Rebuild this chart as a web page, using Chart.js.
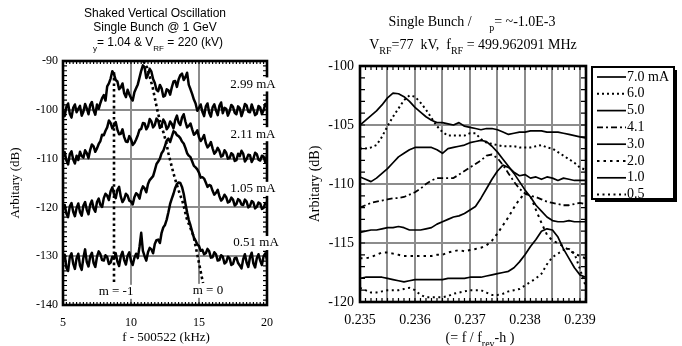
<!DOCTYPE html>
<html>
<head>
<meta charset="utf-8">
<script src="https://cdn.jsdelivr.net/npm/chart.js@4.4.0/dist/chart.umd.min.js"></script>
<style>
  html, body { margin: 0; padding: 0; background: #fff; }
  #wrap { position: relative; width: 682px; height: 346px; overflow: hidden; }
  #left { position: absolute; left: 0; top: 0; }
  #right { position: absolute; left: 300px; top: 0; }
</style>
</head>
<body>
<div id="wrap">
  <canvas id="left" width="300" height="346"></canvas>
  <canvas id="right" width="382" height="346"></canvas>
</div>
<script>
// ---- left panel: shaked vertical oscillation spectra ----
const leftX = [5,5.125,5.25,5.375,5.5,5.625,5.75,5.875,6,6.125,6.25,6.375,6.5,6.625,6.75,6.875,
  7,7.125,7.25,7.375,7.5,7.625,7.75,7.875,8,8.125,8.25,8.375,8.5,8.625,8.75,8.875,
  9,9.125,9.25,9.375,9.5,9.625,9.75,9.875,10,10.125,10.25,10.375,10.5,10.625,10.75,10.875,
  11,11.125,11.25,11.375,11.5,11.625,11.75,11.875,12,12.125,12.25,12.375,12.5,12.625,12.75,12.875,
  13,13.125,13.25,13.375,13.5,13.625,13.75,13.875,14,14.125,14.25,14.375,14.5,14.625,14.75,14.875,
  15,15.125,15.25,15.375,15.5,15.625,15.75,15.875,16,16.125,16.25,16.375,16.5,16.625,16.75,16.875,
  17,17.125,17.25,17.375,17.5,17.625,17.75,17.875,18,18.125,18.25,18.375,18.5,18.625,18.75,18.875,
  19,19.125,19.25,19.375,19.5,19.625,19.75,19.875,20];
const trace299 = [-100.2,-101.3,-99.4,-98.7,-100.8,-101.6,-99.6,-98.9,-100.5,-99.8,
  -99.2,-101.2,-100.4,-98.8,-99.7,-100.9,-99.0,-98.4,-100.1,-101.0,
  -98.9,-99.8,-98.6,-97.6,-97.0,-98.1,-95.2,-94.6,-93.6,-92.1,
  -92.7,-93.9,-94.2,-95.8,-95.4,-94.6,-96.6,-97.4,-95.9,-96.8,
  -97.6,-98.1,-96.4,-95.6,-94.8,-93.4,-92.0,-90.9,-91.3,-93.5,
  -92.8,-91.6,-92.2,-93.7,-94.5,-95.9,-96.2,-94.9,-95.6,-97.3,
  -97.1,-95.8,-96.0,-96.9,-95.4,-94.2,-94.1,-95.3,-93.8,-92.9,
  -92.6,-93.9,-93.3,-92.4,-94.9,-95.8,-96.8,-97.9,-98.7,-100.2,
  -99.6,-98.9,-100.4,-101.3,-99.3,-98.7,-100.6,-101.4,-99.5,-98.9,
  -100.1,-101.1,-99.2,-98.5,-100.7,-99.6,-99.8,-101.2,-100.3,-99.0,
  -99.4,-100.6,-100.9,-99.3,-99.7,-101.3,-100.2,-98.8,-99.1,-100.4,
  -100.5,-98.9,-99.9,-101.1,-100.8,-99.2,-99.5,-100.9,-100.1,-98.8,-99.3];
const trace211 = [-109.6,-108.7,-110.4,-111.2,-109.1,-108.5,-110.2,-111.0,-109.4,-110.3,
  -108.6,-109.5,-109.8,-108.3,-108.9,-109.9,-108.2,-107.1,-107.5,-108.6,
  -107.9,-107.0,-106.4,-105.1,-105.2,-104.3,-103.6,-102.2,-102.7,-103.8,
  -103.2,-102.5,-104.1,-105.0,-104.9,-104.0,-105.6,-106.5,-106.6,-105.4,
  -106.0,-107.2,-106.8,-106.1,-105.2,-104.1,-103.9,-102.7,-102.8,-104.0,
  -103.4,-101.9,-102.4,-103.6,-103.1,-101.8,-102.2,-103.7,-103.3,-102.0,
  -102.6,-104.0,-103.5,-102.4,-102.9,-103.8,-102.1,-101.2,-102.6,-103.1,
  -101.6,-100.9,-102.4,-103.6,-103.3,-102.8,-104.0,-105.1,-104.8,-104.2,
  -105.6,-106.4,-105.9,-105.2,-106.8,-107.7,-107.3,-106.6,-107.9,-109.0,
  -108.6,-107.8,-108.4,-109.6,-109.4,-108.3,-108.8,-110.0,-109.9,-108.9,
  -109.2,-110.5,-110.3,-109.0,-109.5,-108.4,-109.0,-110.6,-110.1,-109.2,
  -109.3,-110.7,-110.0,-108.8,-109.1,-110.2,-110.4,-109.4,-109.6,-110.8,-109.2];
const trace105 = [-120.4,-119.5,-121.3,-122.0,-119.8,-119.1,-120.9,-121.8,-120.1,-119.2,
  -121.0,-121.7,-119.6,-118.9,-120.5,-121.4,-119.4,-118.6,-120.2,-120.9,
  -118.9,-118.2,-119.5,-119.9,-118.1,-117.2,-117.6,-118.5,-116.7,-115.9,
  -117.3,-118.1,-116.4,-115.8,-117.8,-118.9,-118.3,-117.2,-117.6,-118.6,
  -118.8,-119.4,-117.9,-117.1,-117.4,-118.2,-116.6,-115.7,-116.1,-116.9,
  -115.2,-114.4,-114.0,-113.6,-112.4,-111.1,-110.6,-110.0,-108.9,-108.4,
  -107.4,-106.3,-105.9,-106.6,-105.5,-104.4,-104.6,-105.2,-105.4,-105.8,
  -106.5,-106.9,-107.8,-108.9,-109.4,-109.7,-110.6,-111.5,-111.8,-112.2,
  -112.9,-113.9,-113.8,-114.1,-114.9,-115.8,-115.4,-115.6,-116.6,-117.4,
  -117.0,-116.4,-117.7,-118.6,-118.2,-117.4,-117.9,-119.0,-118.8,-118.0,
  -118.4,-119.6,-119.3,-118.3,-118.6,-119.4,-119.5,-118.4,-118.8,-120.0,
  -119.7,-118.7,-119.0,-120.2,-119.9,-119.0,-119.2,-120.3,-120.1,-119.1,-119.4];
const trace051 = [-130.6,-129.7,-132.4,-133.0,-130.2,-129.4,-131.5,-132.6,-130.4,-129.5,
  -131.9,-132.8,-130.3,-128.6,-131.2,-132.1,-130.0,-129.3,-131.4,-132.2,
  -130.1,-129.0,-129.6,-130.8,-130.9,-129.8,-130.2,-131.6,-131.3,-130.1,
  -130.5,-129.4,-131.1,-132.0,-130.0,-129.1,-130.8,-131.7,-129.9,-129.2,
  -131.0,-131.8,-130.3,-129.5,-130.4,-128.1,-125.2,-128.9,-130.0,-130.9,
  -129.2,-128.3,-128.6,-129.4,-127.5,-126.7,-126.6,-127.3,-125.2,-124.1,
  -123.6,-122.5,-121.0,-119.3,-118.2,-117.2,-116.0,-115.2,-114.9,-115.0,
  -115.8,-117.2,-119.2,-121.0,-122.6,-123.7,-125.0,-126.2,-126.8,-127.6,
  -127.9,-128.9,-128.7,-129.6,-129.4,-128.5,-129.0,-130.3,-130.2,-129.2,
  -129.6,-130.9,-130.8,-129.8,-130.1,-131.5,-131.2,-130.1,-130.4,-131.8,
  -131.6,-130.4,-130.3,-131.4,-131.9,-132.5,-130.6,-129.6,-131.3,-132.2,
  -130.2,-129.3,-131.5,-132.3,-130.4,-129.6,-130.9,-131.8,-130.0,-129.4,-130.7];
const mMinus1X = [8.75, 8.75];
const mMinus1Y = [-92.3, -135.5];
const mZeroX = [10.9,11.2,11.6,11.9,12.1,12.4,12.6,12.75,13.0,13.2,13.5,13.8,14.1,14.6,14.85,15.2,15.3];
const mZeroY = [-90,-91.4,-95.5,-99.6,-102.0,-104.8,-106.8,-108.9,-111.7,-113.8,-116.5,-118.9,-122.3,-125.9,-129.3,-134.2,-135.5];
const leftNotes = ['2.99 mA', '2.11 mA', '1.05 mA', '0.51 mA', 'm = -1', 'm = 0'];
const leftNoteX = [18.97, 18.97, 18.97, 19.2, 8.9, 15.66];
const leftNoteY = [-94.8, -105, -116.2, -127.3, -137.3, -137.1];

// ---- right panel: single bunch, current dependence ----
const rightX = [0.2350,0.2351,0.2352,0.2353,0.2354,0.2355,0.2356,0.2357,0.2358,0.2359,
  0.2360,0.2361,0.2362,0.2363,0.2364,0.2365,0.2366,0.2367,0.2368,0.2369,
  0.2370,0.2371,0.2372,0.2373,0.2374,0.2375,0.2376,0.2377,0.2378,0.2379,
  0.2380,0.2381,0.2382,0.2383,0.2384,0.2385,0.2386,0.2387,0.2388,0.2389,0.2390,0.2391];
const rightGrid = [0.235, 0.2355, 0.236, 0.2365, 0.237, 0.2375, 0.238, 0.2385, 0.239];
const currents = ['7.0 mA', '6.0', '5.0', '4.1', '3.0', '2.0', '1.0', '0.5'];
const r70 = [-105.0,-104.6,-104.2,-103.8,-103.3,-102.7,-102.3,-102.35,-102.6,-103.0,
  -103.5,-103.9,-104.3,-104.6,-104.8,-104.8,-104.9,-105.0,-104.8,-105.1,
  -105.2,-105.3,-105.4,-105.3,-105.3,-105.4,-105.6,-105.8,-105.7,-105.6,
  -105.6,-105.5,-105.5,-105.5,-105.6,-105.6,-105.6,-105.7,-105.8,-105.9,-106.0,-106.1];
const r60 = [-107.0,-107.0,-106.9,-106.7,-106.0,-105.1,-104.3,-103.6,-102.9,-102.5,
  -102.6,-103.1,-103.7,-104.4,-105.1,-105.6,-105.9,-105.9,-105.9,-105.9,
  -105.7,-105.7,-106.2,-106.5,-106.6,-106.7,-106.8,-106.8,-106.8,-106.9,
  -106.9,-106.9,-106.8,-106.7,-106.9,-107.0,-107.3,-107.6,-107.9,-108.2,-108.6,-108.8];
const r50 = [-109.4,-109.6,-109.8,-109.5,-109.1,-108.7,-108.2,-107.7,-107.4,-107.1,
  -106.9,-106.9,-106.9,-106.9,-107.1,-107.4,-107.0,-106.9,-106.8,-106.7,
  -106.5,-106.4,-106.3,-106.4,-106.8,-107.3,-107.9,-108.5,-109.1,-109.8,
  -110.5,-111.1,-111.8,-112.3,-112.8,-113.1,-113.2,-113.2,-113.1,-113.2,-113.2,-113.2];
const r41 = [-112.0,-111.8,-111.6,-111.5,-111.4,-111.3,-111.2,-111.2,-111.1,-110.9,
  -110.7,-110.4,-110.0,-109.7,-109.5,-109.5,-109.5,-109.5,-109.2,-108.9,
  -108.6,-108.3,-108.0,-107.6,-107.5,-107.8,-108.4,-109.1,-109.8,-110.4,
  -110.8,-111.0,-111.1,-111.3,-111.5,-111.6,-111.7,-111.8,-111.8,-111.7,-111.6,-111.7];
const r30 = [-114.1,-114.0,-113.9,-113.9,-113.8,-113.7,-113.7,-113.6,-113.7,-113.9,
  -113.9,-113.9,-113.8,-113.7,-113.4,-113.2,-113.0,-112.8,-112.7,-112.5,
  -112.2,-111.9,-111.2,-110.4,-109.6,-108.9,-108.4,-108.6,-109.0,-109.3,
  -109.2,-109.5,-109.4,-109.6,-109.4,-109.5,-109.7,-109.5,-109.6,-109.7,-109.7,-109.7];
const r20 = [-116.3,-116.3,-116.2,-116.0,-115.8,-115.8,-115.9,-116.0,-116.1,-116.1,
  -116.1,-116.1,-116.1,-116.1,-116.0,-116.0,-115.8,-115.7,-115.6,-115.7,
  -115.6,-115.5,-115.4,-115.2,-114.8,-114.2,-113.5,-112.8,-112.0,-111.3,
  -110.8,-111.0,-112.2,-113.3,-114.3,-114.8,-115.0,-115.3,-115.6,-115.9,-116.1,-116.3];
const r10 = [-118.0,-117.9,-117.9,-117.9,-117.9,-118.0,-118.1,-118.2,-118.3,-118.2,
  -118.1,-118.1,-118.1,-118.1,-118.1,-118.1,-118.0,-118.0,-118.0,-118.0,
  -117.9,-117.9,-117.9,-117.8,-117.7,-117.6,-117.5,-117.4,-117.1,-116.6,
  -116.0,-115.3,-114.7,-114.0,-113.8,-113.9,-114.5,-115.5,-116.3,-117.1,-117.7,-117.9];
const r05 = [-118.8,-119.0,-119.2,-119.2,-119.1,-119.0,-119.0,-119.0,-118.9,-118.8,
  -119.0,-119.4,-119.6,-119.6,-119.6,-119.6,-119.5,-119.3,-119.2,-119.1,
  -119.0,-119.0,-119.0,-119.2,-119.4,-119.4,-119.3,-119.1,-119.0,-118.9,
  -118.6,-118.3,-118.0,-117.6,-116.8,-116.2,-115.9,-115.6,-115.5,-115.9,-117.2,-118.6];

const SERIF = '"Liberation Serif", "Times New Roman", Times, serif';
const SANS = '"Liberation Sans", Arial, Helvetica, sans-serif';
const GRID = '#8c8c8c';

function pts(xs, ys) { return xs.map((x, i) => ({ x, y: ys[i] })); }

// text with subscripts, centred on cx
function richText(ctx, parts, cx, cy, size, family) {
  const sub = Math.round(size * 0.7);
  let w = 0;
  parts.forEach(p => { ctx.font = (p.sub ? sub : size) + 'px ' + family; w += ctx.measureText(p.t).width; });
  let x = cx - w / 2;
  ctx.textAlign = 'left';
  ctx.textBaseline = 'middle';
  parts.forEach(p => {
    ctx.font = (p.sub ? sub : size) + 'px ' + family;
    ctx.fillText(p.t, x, cy + (p.sub ? size * 0.45 : 0));
    x += ctx.measureText(p.t).width;
  });
}

// box border + small inward ticks on all four sides
function framePlugin(o) {
  return {
    id: 'frame',
    afterDatasetsDraw(chart) {
      const { ctx, chartArea: a, scales: { x, y } } = chart;
      ctx.save();
      ctx.strokeStyle = '#000';
      ctx.lineWidth = 1.2;
      ctx.beginPath();
      for (let i = 0; ; i++) {
        const v = x.min + i * o.xMinor;
        if (v > x.max + 1e-9) break;
        const px = x.getPixelForValue(v);
        ctx.moveTo(px, a.top); ctx.lineTo(px, a.top + o.tickLen);
        ctx.moveTo(px, a.bottom); ctx.lineTo(px, a.bottom - o.tickLen);
      }
      for (let i = 0; ; i++) {
        const v = y.min + i * o.yMinor;
        if (v > y.max + 1e-9) break;
        const py = y.getPixelForValue(v);
        ctx.moveTo(a.left, py); ctx.lineTo(a.left + o.tickLen + 1, py);
        ctx.moveTo(a.right, py); ctx.lineTo(a.right - o.tickLen - 1, py);
      }
      ctx.stroke();
      ctx.lineWidth = 2.6;
      ctx.strokeRect(a.left, a.top, a.right - a.left, a.bottom - a.top);
      ctx.restore();
    },
    afterDraw(chart) {
      const ctx = chart.ctx;
      ctx.save();
      ctx.fillStyle = '#000';
      o.texts(chart, ctx);
      ctx.restore();
    }
  };
}

function lineSet(label, xs, ys, width, dash) {
  return {
    label, data: pts(xs, ys), borderColor: '#000', borderWidth: width,
    borderDash: dash || [], pointRadius: 0, fill: false, tension: 0,
    borderJoinStyle: 'round', borderCapStyle: 'butt'
  };
}

Chart.defaults.font.family = SERIF;
Chart.defaults.color = '#000';

// ---------- left chart ----------
new Chart(document.getElementById('left'), {
  type: 'line',
  data: {
    datasets: [
      lineSet('2.99 mA', leftX, trace299, 2.5),
      lineSet('2.11 mA', leftX, trace211, 2.5),
      lineSet('1.05 mA', leftX, trace105, 2.5),
      lineSet('0.51 mA', leftX, trace051, 2.5),
      lineSet('m = -1', mMinus1X, mMinus1Y, 2.6, [2.6, 3]),
      lineSet('m = 0', mZeroX, mZeroY, 2.6, [2.6, 3])
    ]
  },
  options: {
    responsive: false, animation: false, devicePixelRatio: 1,
    layout: { padding: { left: 0, top: 61, right: 33, bottom: 0 } },
    plugins: { legend: { display: false }, tooltip: { enabled: false } },
    scales: {
      x: {
        type: 'linear', min: 5, max: 20,
        ticks: { stepSize: 5, padding: 11, font: { size: 12 }, maxRotation: 0 },
        grid: { color: GRID, lineWidth: 2, drawTicks: false },
        border: { display: false },
        afterFit(s) { s.height = 41; }
      },
      y: {
        type: 'linear', min: -140, max: -90,
        ticks: { stepSize: 10, padding: 5, font: { size: 12 } },
        grid: { color: GRID, lineWidth: 2, drawTicks: false },
        border: { display: false },
        afterFit(s) { s.width = 63; }
      }
    }
  },
  plugins: [framePlugin({
    xMinor: 0.25, yMinor: 1, tickLen: 3,
    texts(chart, ctx) {
      const { x, y } = chart.scales;
      richText(ctx, [{ t: 'Shaked Vertical Oscillation' }], 155, 14, 12, SANS);
      richText(ctx, [{ t: 'Single Bunch @ 1 GeV' }], 155, 28, 12, SANS);
      richText(ctx, [{ t: 'y', sub: true }, { t: '= 1.04 & V' }, { t: 'RF', sub: true }, { t: ' = 220 (kV)' }], 158, 43, 12, SANS);
      ctx.font = '13px ' + SERIF;
      leftNotes.forEach((t, i) => {
        const px = x.getPixelForValue(leftNoteX[i]);
        const py = y.getPixelForValue(leftNoteY[i]);
        const w = ctx.measureText(t).width;
        ctx.fillStyle = '#fff';
        ctx.fillRect(px - w / 2 - 1, py - 7, w + 2, 14);
        ctx.fillStyle = '#000';
        ctx.textAlign = 'center';
        ctx.textBaseline = 'middle';
        ctx.fillText(t, px, py);
      });
      richText(ctx, [{ t: 'f - 500522 (kHz)' }], 166, 338, 13, SERIF);
      ctx.translate(16, 183);
      ctx.rotate(-Math.PI / 2);
      richText(ctx, [{ t: 'Arbitary (dB)' }], 0, 0, 13, SERIF);
    }
  })]
});

// ---------- right chart ----------
const rightSeries = [r70, r60, r50, r41, r30, r20, r10, r05];
const rightWidth = [1.7, 2, 1.7, 1.8, 1.7, 2, 1.7, 2];
const rightDash = [[], [2, 3], [], [6, 3, 2, 3], [], [2.5, 4], [], [2, 3.5]];

new Chart(document.getElementById('right'), {
  type: 'line',
  data: {
    datasets: rightSeries.map((s, i) => lineSet(currents[i], rightX, s, rightWidth[i], rightDash[i]))
  },
  options: {
    responsive: false, animation: false, devicePixelRatio: 1,
    layout: { padding: { left: 0, top: 66, right: 96, bottom: 0 } },
    plugins: { legend: { display: false }, tooltip: { enabled: false } },
    scales: {
      x: {
        type: 'linear', min: 0.235, max: 0.23911,
        afterBuildTicks(s) { s.ticks = rightGrid.map(v => ({ value: v })); },
        ticks: {
          autoSkip: false, maxRotation: 0, padding: 10, font: { size: 14 },
          callback(v) { const m = Math.round(v * 10000); return m % 10 === 0 ? (m / 10000).toFixed(3) : ''; }
        },
        grid: { color: GRID, lineWidth: 2, drawTicks: false },
        border: { display: false },
        afterFit(s) { s.height = 44; }
      },
      y: {
        type: 'linear', min: -120, max: -100,
        ticks: { stepSize: 5, padding: 6, font: { size: 14 } },
        grid: { color: GRID, lineWidth: 2, drawTicks: false },
        border: { display: false },
        afterFit(s) { s.width = 60; }
      }
    }
  },
  plugins: [framePlugin({
    xMinor: 0.0001, yMinor: 1, tickLen: 4,
    texts(chart, ctx) {
      richText(ctx, [{ t: 'Single Bunch /     ' }, { t: 'p', sub: true }, { t: '= ~-1.0E-3' }], 172, 22, 14, SERIF);
      richText(ctx, [{ t: 'V' }, { t: 'RF', sub: true }, { t: '=77  kV,  f' }, { t: 'RF', sub: true }, { t: ' = 499.962091 MHz' }], 173, 45, 14, SERIF);
      richText(ctx, [{ t: '(= f / f' }, { t: 'rev', sub: true }, { t: '-h )' }], 180, 338, 14, SERIF);

      // legend box with shadow
      const bx = 292, by = 67, bw = 82, bh = 132;
      ctx.fillStyle = '#000';
      ctx.fillRect(bx + bw, by + 3, 3, bh);
      ctx.fillRect(bx + 3, by + bh, bw, 3);
      ctx.fillStyle = '#fff';
      ctx.fillRect(bx, by, bw, bh);
      ctx.strokeStyle = '#000';
      ctx.lineWidth = 2;
      ctx.strokeRect(bx, by, bw, bh);
      chart.data.datasets.forEach((d, i) => {
        const ry = by + 10 + i * 16.8;
        ctx.lineWidth = d.borderWidth;
        ctx.setLineDash(d.borderDash);
        ctx.beginPath();
        ctx.moveTo(297, ry);
        ctx.lineTo(326, ry);
        ctx.stroke();
        ctx.setLineDash([]);
        ctx.fillStyle = '#000';
        ctx.font = '14px ' + SERIF;
        ctx.textAlign = 'left';
        ctx.textBaseline = 'middle';
        ctx.fillText(d.label, 327, ry);
      });

      ctx.translate(15, 184);
      ctx.rotate(-Math.PI / 2);
      richText(ctx, [{ t: 'Arbitary (dB)' }], 0, 0, 14, SERIF);
    }
  })]
});
</script>
</body>
</html>
